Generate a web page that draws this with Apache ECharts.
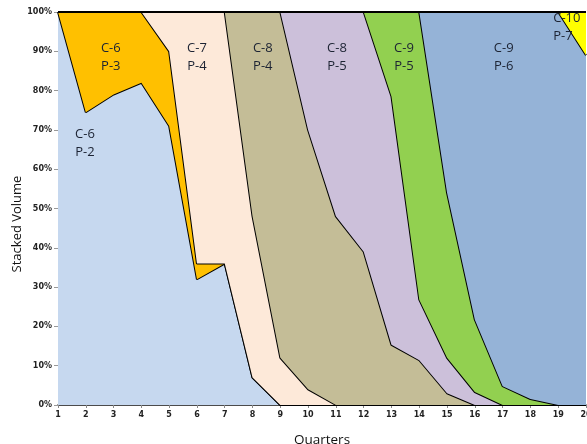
<!DOCTYPE html>
<html>
<head>
<meta charset="utf-8">
<script src="https://cdn.jsdelivr.net/npm/echarts@6/dist/echarts.min.js"></script>
<style>
html,body{margin:0;padding:0;background:#fff;}
#chart{width:587px;height:444px;}
</style>
</head>
<body>
<div id="chart"></div>
<script>
const quarters = ['1','2','3','4','5','6','7','8','9','10','11','12','13','14','15','16','17','18','19','20'];
const yTicks = ['0%','10%','20%','30%','40%','50%','60%','70%','80%','90%','100%'];
const c6p2  = [100, 74.5, 79, 82, 71, 32, 36, 7, 0, 0, 0, 0, 0, 0, 0, 0, 0, 0, 0, 0];
const c6p3  = [0, 25.5, 21, 18, 19, 4, 0, 0, 0, 0, 0, 0, 0, 0, 0, 0, 0, 0, 0, 0];
const c7p4  = [0, 0, 0, 0, 10, 64, 64, 41, 12, 4, 0, 0, 0, 0, 0, 0, 0, 0, 0, 0];
const c8p4  = [0, 0, 0, 0, 0, 0, 0, 52, 88, 66, 48, 39, 15.3, 11.4, 3, 0, 0, 0, 0, 0];
const c8p5  = [0, 0, 0, 0, 0, 0, 0, 0, 0, 30, 52, 61, 63.2, 15.4, 9, 3.3, 0, 0, 0, 0];
const c9p5  = [0, 0, 0, 0, 0, 0, 0, 0, 0, 0, 0, 0, 21.5, 73.2, 42, 18.4, 4.8, 1.5, 0, 0];
const c9p6  = [0, 0, 0, 0, 0, 0, 0, 0, 0, 0, 0, 0, 0, 0, 46, 78.3, 95.2, 98.5, 100, 89];
const c10p7 = [0, 0, 0, 0, 0, 0, 0, 0, 0, 0, 0, 0, 0, 0, 0, 0, 0, 0, 0, 11];

const seriesNames = ['C-6 P-2','C-6 P-3','C-7 P-4','C-8 P-4','C-8 P-5','C-9 P-5','C-9 P-6','C-10 P-7'];
const seriesData = [c6p2, c6p3, c7p4, c8p4, c8p5, c9p5, c9p6, c10p7];
const seriesColors = ['#c6d8ef','#ffc000','#fde9d9','#c4bd97','#ccc0da','#92d050','#95b3d7','#ffff00'];

const chart = echarts.init(document.getElementById('chart'), null, {renderer:'canvas'});
const tickFont = {fontFamily:'DejaVu Sans', fontWeight:'bold', fontSize:8, color:'#222'};

const option = {
  animation:false,
  backgroundColor:'#fff',
  grid:{left:58, right:1, top:12, bottom:39, containLabel:false, outerBoundsMode:'none'},
  xAxis:{
    type:'category', data:quarters, boundaryGap:false,
    axisLine:{show:true, lineStyle:{color:'#111', width:1.5}},
    axisTick:{show:true, alignWithLabel:true, length:3, lineStyle:{color:'#888'}},
    axisLabel:Object.assign({margin:6, interval:0, hideOverlap:false}, tickFont),
    splitLine:{show:false},
    name:'Quarters', nameLocation:'middle', nameGap:28,
    nameTextStyle:{fontFamily:'Open Sans', fontSize:13.5, color:'#111'}
  },
  yAxis:{
    type:'value', min:0, max:100, interval:10,
    axisLine:{show:true, lineStyle:{color:'#999', width:1}},
    axisTick:{show:true, length:4, lineStyle:{color:'#999'}},
    axisLabel:Object.assign({margin:6, formatter:function(v){return yTicks[Math.round(v/10)];}}, tickFont),
    splitLine:{show:false}
  },
  series: seriesNames.map(function(n, i){
    return {
      name:n, type:'line', stack:'vol', data:seriesData[i],
      symbol:'none', smooth:false,
      lineStyle:{color:'#000', width:2},
      areaStyle:{color:seriesColors[i], opacity:1},
      itemStyle:{color:seriesColors[i]},
      z: 2 + i
    };
  })
};
chart.setOption(option);

function toPx(xq, yv){
  const i0 = Math.floor(xq) - 1;
  const p0 = chart.convertToPixel({gridIndex:0}, [i0, yv]);
  const p1 = chart.convertToPixel({gridIndex:0}, [i0 + 1, yv]);
  const f = xq - Math.floor(xq);
  return [p0[0] + (p1[0] - p0[0]) * f, p0[1]];
}

const areaLabels = [
  {t:'C-6\nP-2', x:1.97, y:66.5, align:'center'},
  {t:'C-6\nP-3', x:2.9, y:88.4, align:'center'},
  {t:'C-7\nP-4', x:6.0, y:88.4, align:'center'},
  {t:'C-8\nP-4', x:8.37, y:88.4, align:'center'},
  {t:'C-8\nP-5', x:11.04, y:88.4, align:'center'},
  {t:'C-9\nP-5', x:13.45, y:88.4, align:'center'},
  {t:'C-9\nP-6', x:17.04, y:88.4, align:'center'},
  {t:'C-10\nP-7', x:18.82, y:96, align:'left'}
];

const graphics = areaLabels.map(function(l){
  const p = toPx(l.x, l.y);
  return {
    type:'text', x:p[0], y:p[1], z:100,
    style:{text:l.t, fontFamily:'Open Sans', fontSize:13, lineHeight:18,
      fill:'#1c2333', align:l.align, verticalAlign:'middle'}
  };
});
graphics.push({
  type:'text', x:17, y:224, rotation:Math.PI/2, z:100,
  style:{text:'Stacked Volume', fontFamily:'Open Sans', fontSize:13, fill:'#111',
    align:'center', verticalAlign:'middle'}
});
chart.setOption({graphic:graphics});
</script>
</body>
</html>
